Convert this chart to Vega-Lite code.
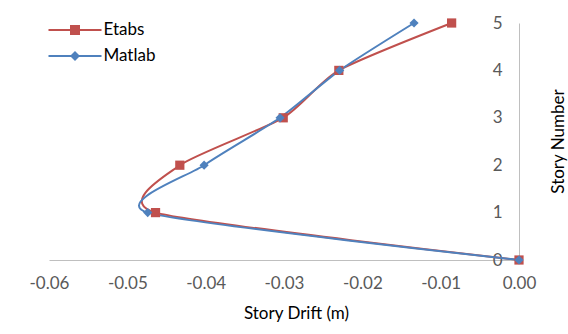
{
  "$schema": "https://vega.github.io/schema/vega-lite/v6.json",
  "width": 470,
  "height": 237,
  "autosize": "none",
  "padding": {"left": 49, "top": 23, "right": 49, "bottom": 74},
  "background": "white",
  "config": {"view": {"stroke": null}, "font": "Lato"},
  "data": {
    "values": [
      {"series": "Etabs", "story": 0, "drift": 0},
      {"series": "Etabs", "story": 1, "drift": -0.0464},
      {"series": "Etabs", "story": 2, "drift": -0.0433},
      {"series": "Etabs", "story": 3, "drift": -0.0301},
      {"series": "Etabs", "story": 4, "drift": -0.0230},
      {"series": "Etabs", "story": 5, "drift": -0.0086},
      {"series": "Matlab", "story": 0, "drift": 0},
      {"series": "Matlab", "story": 1, "drift": -0.0474},
      {"series": "Matlab", "story": 2, "drift": -0.0402},
      {"series": "Matlab", "story": 3, "drift": -0.0305},
      {"series": "Matlab", "story": 4, "drift": -0.0229},
      {"series": "Matlab", "story": 5, "drift": -0.0134}
    ]
  },
  "encoding": {
    "x": {
      "field": "drift",
      "type": "quantitative",
      "scale": {"domain": [-0.06, 0], "nice": false},
      "axis": {
        "title": "Story Drift (m)",
        "values": [-0.06, -0.05, -0.04, -0.03, -0.02, -0.01, 0],
        "labelExpr": "replace(format(datum.value, '.2f'), '\u2212', '-')",
        "labelFlush": false,
        "labelOverlap": false,
        "grid": false,
        "ticks": false,
        "tickSize": 0,
        "domainColor": "#BFBFBF",
        "labelPadding": 15,
        "labelFontSize": 17,
        "labelColor": "#595959",
        "titleFontSize": 17,
        "titleFontWeight": "normal",
        "titleColor": "#000000",
        "titleX": 247,
        "titleY": 53,
        "titleBaseline": "middle"
      }
    },
    "y": {
      "field": "story",
      "type": "quantitative",
      "scale": {"domain": [0, 5], "nice": false},
      "axis": {
        "orient": "left",
        "offset": -470,
        "title": "Story Number",
        "values": [0, 1, 2, 3, 4, 5],
        "grid": false,
        "ticks": false,
        "tickSize": 0,
        "domainColor": "#BFBFBF",
        "labelAlign": "right",
        "labelPadding": 17,
        "labelFlush": false,
        "labelFontSize": 17,
        "labelColor": "#595959",
        "titleAngle": 270,
        "titleX": 39,
        "titleY": 118,
        "titleAlign": "center",
        "titleBaseline": "middle",
        "titleFontSize": 17,
        "titleFontWeight": "normal",
        "titleColor": "#000000"
      }
    }
  },
  "layer": [
    {
      "mark": {"type": "line", "interpolate": "cardinal", "tension": 0.35, "strokeWidth": 2},
      "encoding": {
        "order": {"field": "story", "type": "quantitative"},
        "stroke": {
          "field": "series",
          "type": "nominal",
          "scale": {"domain": ["Etabs", "Matlab"], "range": ["#C0504D", "#4F81BD"]},
          "legend": {
            "title": null,
            "orient": "none",
            "legendX": 17.5,
            "legendY": -1.5,
            "padding": 0,
            "symbolType": "M-5.3,0L5.3,0",
            "symbolSize": 100,
            "symbolStrokeWidth": 2,
            "labelOffset": 20,
            "labelFontSize": 17,
            "labelColor": "#000000",
            "rowPadding": 8
          }
        }
      }
    },
    {
      "mark": {"type": "point", "filled": true, "size": 85, "opacity": 1},
      "encoding": {
        "fill": {
          "field": "series",
          "type": "nominal",
          "scale": {"range": ["#C0504D", "#4F81BD"]},
          "legend": {
            "title": null,
            "orient": "none",
            "legendX": 17.5,
            "legendY": -1.5,
            "padding": 0,
            "symbolSize": 100,
            "symbolOpacity": 1,
            "symbolStrokeWidth": 0,
            "labelOffset": 20,
            "labelFontSize": 17,
            "labelColor": "transparent",
            "rowPadding": 8
          }
        },
        "shape": {
          "field": "series",
          "type": "nominal",
          "scale": {"range": ["square", "diamond"]},
          "legend": {
            "title": null,
            "orient": "none",
            "legendX": 17.5,
            "legendY": -1.5,
            "padding": 0,
            "symbolSize": 100,
            "symbolOpacity": 1,
            "symbolStrokeWidth": 0,
            "labelOffset": 20,
            "labelFontSize": 17,
            "labelColor": "transparent",
            "rowPadding": 8
          }
        }
      }
    }
  ]
}
